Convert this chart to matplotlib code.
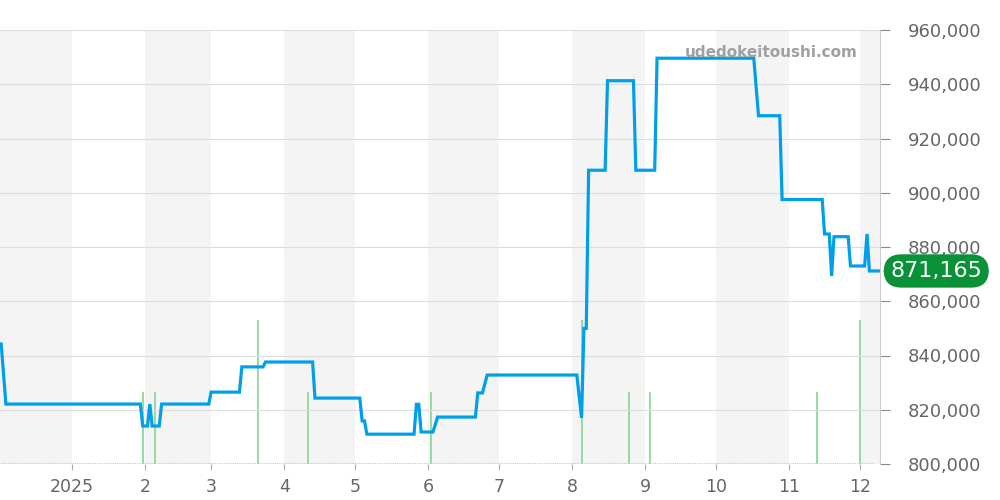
import matplotlib
matplotlib.use("Agg")
import matplotlib.pyplot as plt
import pandas as pd
import numpy as np

# ---- data ----
price_dates = [
    "2024-12-02", "2024-12-04", "2025-01-30", "2025-01-31", "2025-02-02", "2025-02-03",
    "2025-02-04", "2025-02-07", "2025-02-08", "2025-02-28", "2025-03-01", "2025-03-13",
    "2025-03-14", "2025-03-23", "2025-03-24", "2025-04-13", "2025-04-14", "2025-05-03",
    "2025-05-04", "2025-05-05", "2025-05-06", "2025-05-26", "2025-05-27", "2025-05-28",
    "2025-05-29", "2025-06-03", "2025-06-05", "2025-06-21", "2025-06-22", "2025-06-24",
    "2025-06-26", "2025-08-03", "2025-08-05", "2025-08-06", "2025-08-07", "2025-08-08",
    "2025-08-15", "2025-08-16", "2025-08-27", "2025-08-28", "2025-09-05", "2025-09-06",
    "2025-10-17", "2025-10-19", "2025-10-28", "2025-10-29", "2025-11-15", "2025-11-16",
    "2025-11-18", "2025-11-19", "2025-11-20", "2025-11-26", "2025-11-27", "2025-12-03",
    "2025-12-04", "2025-12-05", "2025-12-09",
]
price_values = [
    844240, 822100, 822100, 814000, 814000, 822100,
    814000, 814000, 822100, 822100, 826500, 826500,
    835800, 835800, 837600, 837600, 824300, 824300,
    815900, 815900, 811000, 811000, 822000, 822000,
    811800, 811800, 817300, 817300, 826200, 826200,
    832800, 832800, 817000, 850000, 850000, 908300,
    908300, 941300, 941300, 908300, 908300, 949600,
    949600, 928400, 928400, 897500, 897500, 884800,
    884800, 869300, 883800, 883800, 873000, 873000,
    884800, 871165, 871165,
]
volume_dates = [
    "2025-01-31", "2025-02-05", "2025-03-21", "2025-04-11", "2025-06-02",
    "2025-08-05", "2025-08-25", "2025-09-03", "2025-11-13", "2025-12-01",
]
volume_values = [1, 1, 2, 1, 1, 2, 1, 1, 1, 2]
month_ticks = ["2025-01-01", "2025-02-01", "2025-03-01", "2025-04-01", "2025-05-01",
               "2025-06-01", "2025-07-01", "2025-08-01", "2025-09-01", "2025-10-01",
               "2025-11-01", "2025-12-01"]
month_labels = ["2025", "2", "3", "4", "5", "6", "7", "8", "9", "10", "11", "12"]
last_price = 871165

pdates = pd.to_datetime(price_dates)
vdates = pd.to_datetime(volume_dates)
xmin = pd.Timestamp("2024-12-01 12:00")
xmax = pd.Timestamp("2025-12-09 12:00")

fig = plt.figure(figsize=(10, 5), dpi=100)
ax = fig.add_axes([0.0, 0.072, 0.88, 0.868])

# volume on twin axis (drawn beneath the price axis)
axv = ax.twinx()
axv.set_xlim(xmin, xmax)
axv.set_ylim(0, 6.03)
band_starts = pd.date_range("2024-12-01", "2025-12-01", freq="MS")
for i, s in enumerate(band_starts):
    if i % 2 == 0:
        e = s + pd.offsets.MonthBegin(1)
        axv.axvspan(s, e, color="#f4f4f4", zorder=0, lw=0)
axv.vlines(vdates, 0, volume_values, color="#8ed99a", lw=1.3, zorder=2)
daily = pd.date_range("2024-12-02", "2025-12-07", freq="D")
axv.plot(daily, np.full(len(daily), 0.02), color="#a8dfb0", lw=0.8, ls=(0, (1, 1)), zorder=2)
axv.axis("off")

ax.set_zorder(axv.get_zorder() + 1)
ax.patch.set_visible(False)

ax.plot(pdates, price_values, color="#00a0e9", lw=2.3, zorder=3, solid_joinstyle="miter")

ax.set_xlim(xmin, xmax)
ax.set_ylim(800000, 960000)
ax.yaxis.tick_right()
ax.set_yticks(np.arange(800000, 960001, 20000))
ax.set_yticklabels([f"{v:,}" for v in range(800000, 960001, 20000)])
ax.grid(axis="y", color="#dddddd", lw=0.8)
ax.set_xticks(pd.to_datetime(month_ticks))
ax.set_xticklabels(month_labels)
ax.tick_params(axis="y", colors="#888888", labelcolor="#666666", labelsize=13, length=7, pad=13)
ax.tick_params(axis="x", colors="#aaaaaa", labelcolor="#666666", labelsize=12.5, length=4, pad=6)
for sp in ["top", "left", "bottom"]:
    ax.spines[sp].set_visible(False)
ax.spines["right"].set_color("#cccccc")

ax.text(0.975, 0.948, "udedokeitoushi.com", transform=ax.transAxes, ha="right", va="center",
        fontsize=11, fontweight="bold", color="#a0a0a0", zorder=5)

ax.annotate(f"{last_price:,}", xy=(1.0, last_price), xycoords=("axes fraction", "data"),
            xytext=(40.5, 0), textcoords="offset points", ha="center", va="center",
            fontsize=16, color="white",
            bbox=dict(boxstyle="round,pad=0.3,rounding_size=0.8", fc="#0a9238", ec="none"),
            annotation_clip=False, zorder=6)

fig.savefig("out.png", dpi=100)
